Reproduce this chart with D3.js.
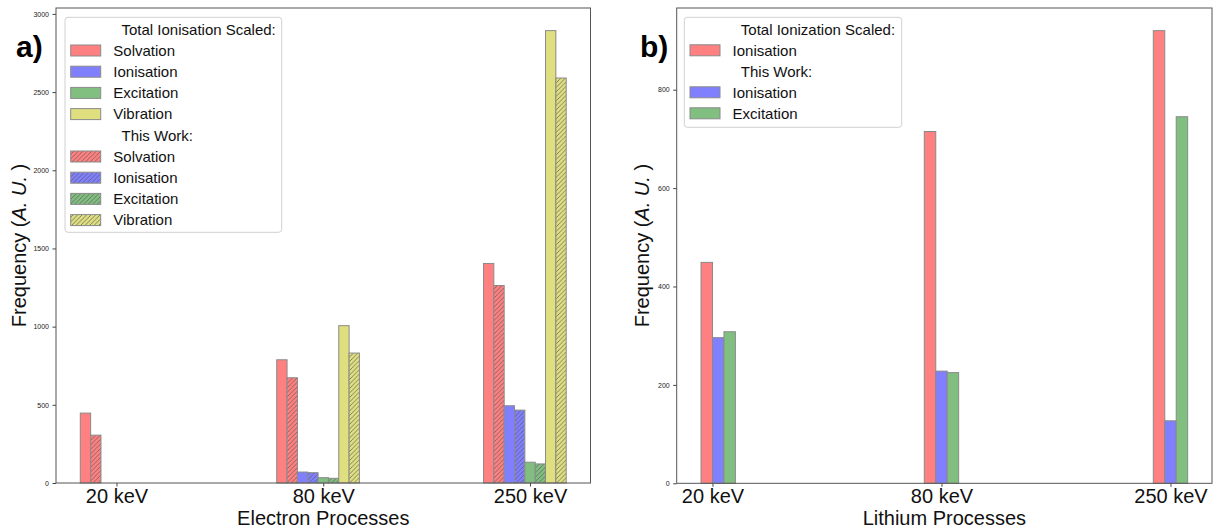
<!DOCTYPE html>
<html>
<head>
<meta charset="utf-8">
<script src="https://cdn.jsdelivr.net/npm/d3@7/dist/d3.min.js"></script>
<style>
  html, body { margin: 0; padding: 0; background: #fff; }
  svg { display: block; font-family: "Liberation Sans", Arial, Helvetica, sans-serif; }
</style>
</head>
<body>
<svg id="chart" width="1213" height="529"></svg>
<script>
// ---------------- DATA ----------------
const categories = ["20 keV", "80 keV", "250 keV"];

// Panel a) Electron processes
const totalSolvation  = [447, 788, 1404];
const totalIonisation = [0, 70, 494];
const totalExcitation = [0, 34, 133];
const totalVibration  = [0, 1006, 2893];
const workSolvation   = [306, 673, 1263];
const workIonisation  = [0, 66, 466];
const workExcitation  = [0, 30, 122];
const workVibration   = [0, 831, 2590];

// Panel b) Lithium processes
const liTotalIonisation = [449, 715, 920];
const liWorkIonisation  = [296, 228, 127];
const liWorkExcitation  = [308, 225, 745];

const yTicksA = [0, 500, 1000, 1500, 2000, 2500, 3000];
const yTicksB = [0, 200, 400, 600, 800];

// ---------------- STYLE ----------------
const COLORS = { red: "#ff8080", blue: "#8080ff", green: "#80bf80", yellow: "#dfdf80" };
const BAR_W = 0.05;             // bar width in category units

const svg = d3.select("#chart");
const defs = svg.append("defs");
Object.entries(COLORS).forEach(([k, c]) => {
  const p = defs.append("pattern").attr("id", "hatch-" + k)
    .attr("patternUnits", "userSpaceOnUse").attr("width", 4.5).attr("height", 4.5);
  p.append("rect").attr("width", 4.5).attr("height", 4.5).attr("fill", c);
  p.append("path").attr("d", "M-1,1 l2,-2 M0,4.5 l4.5,-4.5 M3.5,5.5 l2,-2")
    .attr("stroke", "#555").attr("stroke-width", 0.8).attr("stroke-opacity", 0.85);
});

function panel(cfg) {
  const g = svg.append("g");
  // compute bar positions
  const bars = [];
  cfg.series.forEach(s => {
    s.values.forEach((v, ci) => {
      const center = ci + (s.offset + cfg.groupShift[ci]) * BAR_W;
      bars.push({ x0: center - BAR_W / 2, x1: center + BAR_W / 2, v, s });
    });
  });
  const xmin = d3.min(bars, b => b.x0), xmax = d3.max(bars, b => b.x1);
  const pad = (xmax - xmin) * 0.05;
  const x = d3.scaleLinear().domain([xmin - pad, xmax + pad]).range([cfg.left, cfg.right]);
  const ymax = d3.max(bars, b => b.v) * 1.05;
  const y = d3.scaleLinear().domain([0, ymax]).range([cfg.bottom, cfg.top]);

  // bars
  g.selectAll("rect.bar").data(bars.filter(b => b.v > 0)).join("rect")
    .attr("class", "bar")
    .attr("x", b => x(b.x0)).attr("width", b => x(b.x1) - x(b.x0))
    .attr("y", b => y(b.v)).attr("height", b => y(0) - y(b.v))
    .attr("fill", b => b.s.hatch ? "url(#hatch-" + b.s.color + ")" : COLORS[b.s.color])
    .attr("stroke", "#8a8a8a").attr("stroke-width", 1);

  // axes
  const yAxis = d3.axisLeft(y).tickValues(cfg.yTicks).tickSize(3.5).tickPadding(3.5).tickFormat(d3.format("d"));
  const ya = g.append("g").attr("transform", `translate(${cfg.left},0)`).call(yAxis);
  ya.select(".domain").remove();
  ya.selectAll("text").attr("font-size", 7).attr("fill", "#222");
  ya.selectAll("line").attr("stroke", "#444");

  const xAxis = d3.axisBottom(x).tickValues([0, 1, 2]).tickSize(3.5).tickPadding(2.5)
    .tickFormat((d, i) => categories[i]);
  const xa = g.append("g").attr("transform", `translate(0,${cfg.bottom})`).call(xAxis);
  xa.select(".domain").remove();
  xa.selectAll("text").attr("font-size", 20).attr("fill", "#111");
  xa.selectAll("line").attr("stroke", "#444");

  // frame
  g.append("rect").attr("x", cfg.left).attr("y", cfg.top)
    .attr("width", cfg.right - cfg.left).attr("height", cfg.bottom - cfg.top)
    .attr("fill", "none").attr("stroke", "#555").attr("stroke-width", 1);

  // x label
  g.append("text").attr("x", (cfg.left + cfg.right) / 2).attr("y", 525)
    .attr("text-anchor", "middle").attr("font-size", 20).attr("fill", "#111").text(cfg.xlabel);

  // y label
  const yl = g.append("text")
    .attr("transform", `translate(${cfg.ylabelX},${(cfg.top + cfg.bottom) / 2}) rotate(-90)`)
    .attr("text-anchor", "middle").attr("font-size", 20).attr("fill", "#111");
  yl.append("tspan").text("Frequency (");
  yl.append("tspan").attr("font-style", "italic").text("A. U.");
  yl.append("tspan").text(" )");

  // panel letter
  g.append("text").attr("x", cfg.letterX).attr("y", 57).attr("font-size", 30)
    .attr("font-weight", "bold").attr("fill", "#000").text(cfg.letter);

  // legend
  const L = cfg.legend;
  g.append("rect").attr("x", L.x).attr("y", L.y).attr("width", L.w).attr("height", L.h)
    .attr("rx", 3).attr("fill", "#fff").attr("fill-opacity", 0.85)
    .attr("stroke", "#d0d0d0").attr("stroke-width", 1);
  L.rows.forEach((r, i) => {
    const cy = L.y + 12 + i * L.step;
    if (r.header) {
      g.append("text").attr("x", L.x + 56.5).attr("y", cy + 5.2).attr("font-size", 15)
        .attr("fill", "#111").text(r.header);
    } else {
      g.append("rect").attr("x", L.x + 5.7).attr("y", cy - 5.5).attr("width", 30).attr("height", 11)
        .attr("fill", r.hatch ? "url(#hatch-" + r.color + ")" : COLORS[r.color])
        .attr("stroke", "#8a8a8a").attr("stroke-width", 1);
      g.append("text").attr("x", L.x + 48.3).attr("y", cy + 5.2).attr("font-size", 15)
        .attr("fill", "#111").text(r.label);
    }
  });
}

panel({
  left: 56, right: 590.5, top: 8, bottom: 483,
  groupShift: [1, 0, 0],
  yTicks: yTicksA, xlabel: "Electron Processes", ylabelX: 26, letter: "a)", letterX: 16,
  series: [
    { values: totalSolvation,  color: "red",    hatch: false, offset: -4 },
    { values: workSolvation,   color: "red",    hatch: true,  offset: -3 },
    { values: totalIonisation, color: "blue",   hatch: false, offset: -2 },
    { values: workIonisation,  color: "blue",   hatch: true,  offset: -1 },
    { values: totalExcitation, color: "green",  hatch: false, offset: 0 },
    { values: workExcitation,  color: "green",  hatch: true,  offset: 1 },
    { values: totalVibration,  color: "yellow", hatch: false, offset: 2 },
    { values: workVibration,   color: "yellow", hatch: true,  offset: 3 }
  ],
  legend: {
    x: 65, y: 17.3, w: 216.7, h: 215, step: 21.2,
    rows: [
      { header: "Total Ionisation Scaled:" },
      { label: "Solvation", color: "red" },
      { label: "Ionisation", color: "blue" },
      { label: "Excitation", color: "green" },
      { label: "Vibration", color: "yellow" },
      { header: "This Work:" },
      { label: "Solvation", color: "red", hatch: true },
      { label: "Ionisation", color: "blue", hatch: true },
      { label: "Excitation", color: "green", hatch: true },
      { label: "Vibration", color: "yellow", hatch: true }
    ]
  }
});

panel({
  left: 676.7, right: 1212, top: 8, bottom: 483.3,
  groupShift: [0.5, 0, 0],
  yTicks: yTicksB, xlabel: "Lithium Processes", ylabelX: 649, letter: "b)", letterX: 640,
  series: [
    { values: liTotalIonisation, color: "red",   hatch: false, offset: -1 },
    { values: liWorkIonisation,  color: "blue",  hatch: false, offset: 0 },
    { values: liWorkExcitation,  color: "green", hatch: false, offset: 1 }
  ],
  legend: {
    x: 684.3, y: 17.3, w: 217.4, h: 110, step: 21,
    rows: [
      { header: "Total Ionization Scaled:" },
      { label: "Ionisation", color: "red" },
      { header: "This Work:" },
      { label: "Ionisation", color: "blue" },
      { label: "Excitation", color: "green" }
    ]
  }
});
</script>
</body>
</html>
